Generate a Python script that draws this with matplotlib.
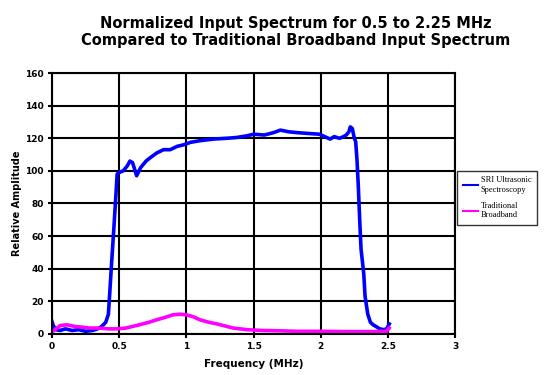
import matplotlib.pyplot as plt

# values
sri_freq = [0.0, 0.01, 0.03, 0.06, 0.1, 0.15, 0.2, 0.25, 0.3, 0.34, 0.37, 0.4, 0.42,
            0.43, 0.445, 0.46, 0.475, 0.485, 0.5, 0.53, 0.56, 0.58, 0.6, 0.63, 0.66,
            0.7, 0.73, 0.78, 0.83, 0.88, 0.93, 0.98, 1.03, 1.1, 1.2, 1.3, 1.375, 1.45,
            1.5, 1.58, 1.65, 1.7, 1.76, 1.82, 1.9, 1.99, 2.03, 2.07, 2.1, 2.14, 2.17,
            2.19, 2.21, 2.22, 2.235, 2.25, 2.26, 2.27, 2.28, 2.29, 2.30, 2.32, 2.33,
            2.35, 2.37, 2.39, 2.42, 2.44, 2.47, 2.49, 2.51]
sri_amp = [7.5, 5, 2.5, 2, 3, 2, 2.5, 1.5, 2, 3, 4.5, 7, 12,
           25, 45, 64, 84, 98, 99, 100, 103, 106, 105, 97, 102,
           106, 108, 111, 113, 113, 115, 116, 117.5, 118.5, 119.5, 120, 120.5, 121.5,
           122.5, 122, 123.5, 125, 124, 123.5, 123, 122.5, 121, 119.5, 121, 120, 121,
           122, 124, 127, 126, 120, 118, 106.7, 90, 70, 52, 37, 23,
           12, 7, 5.5, 4, 3, 2.5, 3, 6]

trad_freq = [0.0, 0.03, 0.06, 0.11, 0.17, 0.23, 0.28, 0.35, 0.42, 0.48, 0.55, 0.65,
             0.72, 0.78, 0.84, 0.9, 0.95, 1.0, 1.05, 1.1, 1.17, 1.23, 1.3, 1.35, 1.45,
             1.57, 1.7, 1.82, 2.0, 2.2, 2.4, 2.49, 2.51]
trad_amp = [1, 3, 5, 5.5, 4.5, 4, 3.5, 3.5, 3, 3, 3.5, 5.5,
            7, 8.6, 10, 11.6, 12, 11.6, 10.5, 8.6, 7, 6, 4.5, 3.5, 2.5,
            2, 1.8, 1.5, 1.5, 1.3, 1.3, 1.5, 3.5]

x_ticks = [0, 0.5, 1, 1.5, 2, 2.5, 3]
x_labels = ['0', '0.5', '1', '1.5', '2', '2.5', '3']
y_ticks = [0, 20, 40, 60, 80, 100, 120, 140, 160]

fig = plt.figure(figsize=(5.47, 3.75), dpi=100)
ax = fig.add_axes([0.095, 0.11, 0.737, 0.695])

ax.plot(sri_freq, sri_amp, color='#0000ff', linewidth=2.6,
        label='SRI Ultrasonic\nSpectroscopy')
ax.plot(trad_freq, trad_amp, color='#ff00ff', linewidth=2.6,
        label='Traditional\nBroadband')

ax.set_xlim(0, 3)
ax.set_ylim(0, 160)
ax.set_xticks(x_ticks)
ax.set_xticklabels(x_labels)
ax.set_yticks(y_ticks)
ax.grid(True, color='black', linewidth=1.5)
ax.set_axisbelow(True)
for s in ax.spines.values():
    s.set_linewidth(1.5)
ax.tick_params(direction='out', length=3, width=1.5, labelsize=6.5, pad=3)
for lab in ax.get_xticklabels() + ax.get_yticklabels():
    lab.set_fontweight('bold')

ax.set_xlabel('Frequency (MHz)', fontsize=7.5, fontweight='bold', labelpad=6)
ax.set_ylabel('Relative Amplitude', fontsize=7, fontweight='bold', labelpad=2)

fig.text(0.54, 0.915, 'Normalized Input Spectrum for 0.5 to 2.25 MHz\n'
         'Compared to Traditional Broadband Input Spectrum',
         ha='center', va='center', fontsize=10.5, fontweight='bold',
         linespacing=1.2)

leg = fig.legend(loc='upper left', bbox_to_anchor=(0.836, 0.545),
                 prop={'family': 'Liberation Serif', 'size': 6},
                 frameon=True, fancybox=False, handlelength=1.8,
                 handletextpad=0.3, labelspacing=1.0, borderpad=0.7,
                 borderaxespad=0)
leg.get_frame().set_edgecolor('black')
leg.get_frame().set_linewidth(1.0)
for line in leg.get_lines():
    line.set_linewidth(1.5)

fig.savefig('out.png', dpi=100)
